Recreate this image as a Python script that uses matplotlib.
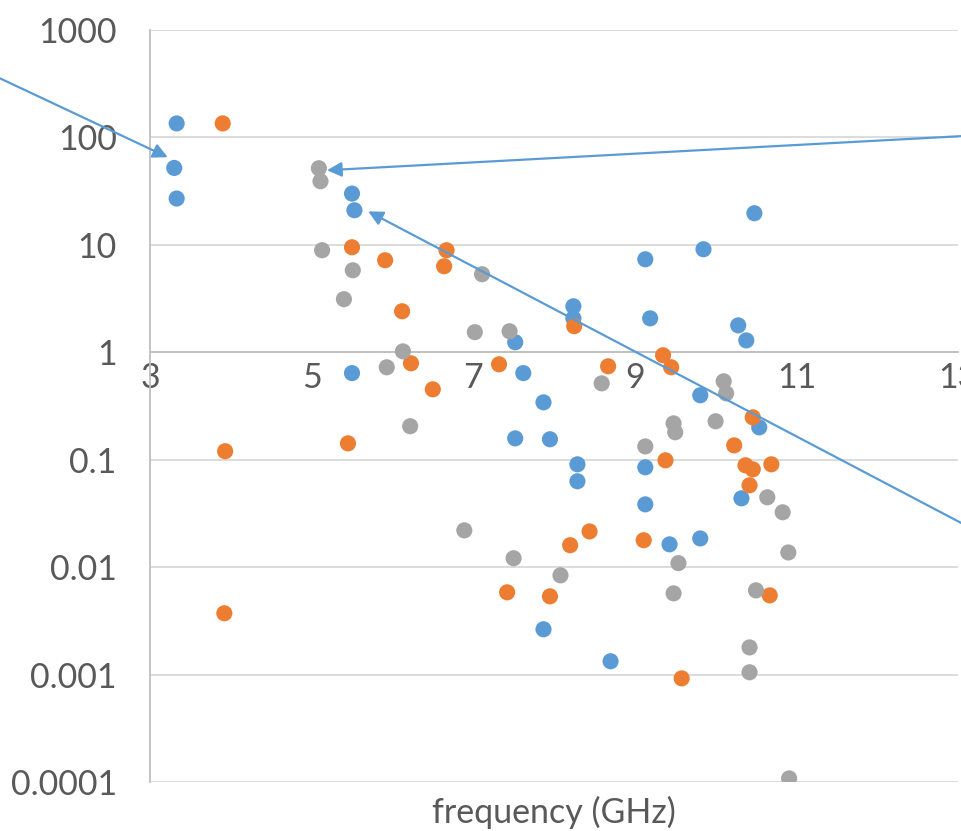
# ============================================================
# LIBRERÍAS
# ============================================================

import matplotlib
matplotlib.use("Agg")
import matplotlib.pyplot as plt


# ============================================================
# DATOS (frecuencia en GHz, valor en escala log)
# ============================================================

blue_x = [3.33, 3.30, 3.33, 5.50, 5.53, 5.50, 7.52, 7.62, 8.24, 8.24,
          9.13, 9.85, 10.48, 9.19, 10.28, 10.38, 9.81, 10.54, 7.87, 7.52,
          7.95, 8.29, 8.29, 9.13, 9.13, 9.43, 9.81, 10.32, 7.87, 8.70]
blue_y = [135, 52, 27, 30, 21, 0.64, 1.24, 0.64, 2.68, 2.07,
          7.34, 9.10, 19.7, 2.07, 1.78, 1.29, 0.398, 0.200, 0.342, 0.158,
          0.155, 0.0906, 0.0630, 0.0850, 0.0384, 0.0163, 0.0185, 0.0437, 0.00264, 0.00133]

orange_x = [3.90, 5.50, 5.91, 6.67, 6.64, 6.12, 8.25, 6.23, 7.32, 8.67,
            6.50, 9.35, 9.45, 5.45, 3.93, 3.92, 9.38, 10.23, 8.44, 8.20,
            9.11, 7.42, 7.95, 9.58, 10.46, 10.37, 10.46, 10.69, 10.42, 10.67]
orange_y = [135, 9.50, 7.19, 8.91, 6.32, 2.41, 1.75, 0.790, 0.773, 0.741,
            0.452, 0.938, 0.725, 0.142, 0.120, 0.00372, 0.0987, 0.136, 0.0215, 0.0160,
            0.0178, 0.00583, 0.00535, 0.000922, 0.248, 0.0887, 0.0814, 0.0906, 0.0578, 0.00546]

gray_x = [5.09, 5.11, 5.13, 5.51, 5.40, 6.13, 5.93, 6.22, 7.11, 7.02,
          7.45, 8.59, 10.10, 10.13, 9.48, 9.50, 10.00, 9.13, 6.89, 7.50,
          8.08, 9.54, 9.48, 10.64, 10.83, 10.90, 10.50, 10.42, 10.42, 10.91]
gray_y = [51.7, 39.1, 8.91, 5.80, 3.12, 1.02, 0.725, 0.205, 5.33, 1.54,
          1.57, 0.514, 0.537, 0.415, 0.218, 0.180, 0.228, 0.133, 0.0220, 0.0121,
          0.00839, 0.0109, 0.00570, 0.0447, 0.0324, 0.0137, 0.00608, 0.00179, 0.00105, 0.000108]

# flechas: (punta, cola)
arrow_tips = [(3.22, 65.4), (5.19, 49.5), (5.70, 20.5)]
arrow_tails = [(0.77, 481), (13.53, 107.6), (13.53, 0.0165)]

x_ticks = [3, 5, 7, 9, 11, 13]
y_ticks = [1e-4, 1e-3, 1e-2, 1e-1, 1, 10, 100, 1000]
y_tick_labels = ["0.0001", "0.001", "0.01", "0.1", "1", "10", "100", "1000"]


# ============================================================
# ESTILO
# ============================================================

BLUE = "#5B9BD5"
ORANGE = "#ED7D31"
GRAY = "#A5A5A5"
TEXT = "#595959"

plt.rcParams["font.family"] = ["Lato", "DejaVu Sans"]
plt.rcParams["font.size"] = 24.5


# ============================================================
# FIGURA
# ============================================================

fig = plt.figure(figsize=(9.61, 8.31), dpi=100)
ax = fig.add_axes([150 / 961, 49 / 831, 808 / 961, 752 / 831])

ax.set_yscale("log")
ax.set_xlim(3, 13)
ax.set_ylim(1e-4, 1e3)

ax.set_yticks(y_ticks)
ax.set_yticklabels(y_tick_labels)
ax.minorticks_off()
ax.set_xticks(x_ticks)

ax.grid(axis="y", color="#D9D9D9", linewidth=1.3, zorder=0)
ax.set_axisbelow(True)

for side in ["top", "right"]:
    ax.spines[side].set_visible(False)

ax.spines["left"].set_color("#BFBFBF")
ax.spines["left"].set_linewidth(1.3)
ax.spines["bottom"].set_position(("data", 1))
ax.spines["bottom"].set_color("#BFBFBF")
ax.spines["bottom"].set_linewidth(1.3)

ax.tick_params(axis="both", length=0, colors=TEXT)
ax.tick_params(axis="y", pad=24)
ax.tick_params(axis="x", pad=7)

for xs, ys, c in [(blue_x, blue_y, BLUE),
                  (orange_x, orange_y, ORANGE),
                  (gray_x, gray_y, GRAY)]:
    ax.scatter(xs, ys, s=135, color=c, edgecolors="none", zorder=3)

for tip, tail in zip(arrow_tips, arrow_tails):
    ax.annotate(
        "",
        xy=tip,
        xytext=tail,
        annotation_clip=False,
        arrowprops=dict(
            arrowstyle="-|>",
            color=BLUE,
            lw=1.6,
            mutation_scale=22,
            shrinkA=0,
            shrinkB=0,
        ),
        zorder=4,
    )

ax.text(
    0.5, -0.04,
    "frequency (GHz)",
    transform=ax.transAxes,
    ha="center",
    va="center",
    color=TEXT,
)

fig.savefig("out.png", dpi=100)
